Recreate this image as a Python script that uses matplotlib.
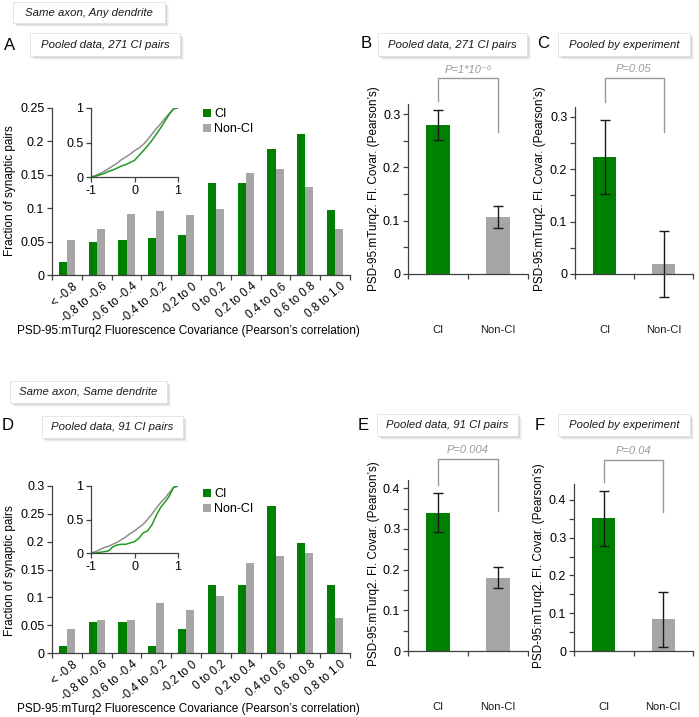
import matplotlib
matplotlib.use("Agg")
import matplotlib.pyplot as plt
import numpy as np
from matplotlib.patches import Rectangle
from matplotlib.ticker import FuncFormatter, MultipleLocator

plt.rcParams['font.family'] = ['Liberation Sans', 'DejaVu Sans']

W, H = 699, 717

# ── data ─────────────────────────────────────────────────────────────
bins = ["< -0.8", "-0.8 to -0.6", "-0.6 to -0.4", "-0.4 to -0.2", "-0.2 to 0",
        "0 to 0.2", "0.2 to 0.4", "0.4 to 0.6", "0.6 to 0.8", "0.8 to 1.0"]

any_ci = [0.019, 0.049, 0.052, 0.056, 0.060, 0.137, 0.137, 0.189, 0.211, 0.097]
any_nonci = [0.052, 0.069, 0.092, 0.096, 0.090, 0.099, 0.152, 0.158, 0.131, 0.069]
same_ci = [0.012, 0.056, 0.056, 0.012, 0.044, 0.122, 0.122, 0.264, 0.198, 0.122]
same_nonci = [0.044, 0.059, 0.059, 0.089, 0.078, 0.102, 0.162, 0.174, 0.180, 0.062]

cdf_x = [-1.0, -0.9, -0.8, -0.7, -0.6, -0.5, -0.4, -0.3, -0.2, -0.1, 0.0,
         0.1, 0.2, 0.3, 0.4, 0.5, 0.6, 0.7, 0.8, 0.9, 1.0]
any_cdf_ci = [0, 0.01, 0.03, 0.05, 0.08, 0.10, 0.13, 0.16, 0.18, 0.21, 0.24,
              0.31, 0.38, 0.45, 0.53, 0.62, 0.71, 0.81, 0.91, 0.99, 1.0]
any_cdf_nonci = [0, 0.02, 0.05, 0.08, 0.12, 0.16, 0.20, 0.25, 0.29, 0.33, 0.38,
                 0.42, 0.47, 0.54, 0.62, 0.70, 0.77, 0.85, 0.92, 0.99, 1.0]
same_cdf_ci = [0, 0.0, 0.01, 0.02, 0.03, 0.09, 0.12, 0.13, 0.13, 0.15, 0.17,
               0.22, 0.30, 0.33, 0.42, 0.56, 0.68, 0.76, 0.85, 0.98, 1.0]
same_cdf_nonci = [0, 0.02, 0.05, 0.08, 0.10, 0.13, 0.16, 0.20, 0.24, 0.29, 0.33,
                  0.38, 0.43, 0.50, 0.58, 0.67, 0.75, 0.82, 0.90, 0.98, 1.0]

groups = ["CI", "Non-CI"]
b_mean, b_err = [0.280, 0.107], [0.028, 0.020]
c_mean, c_err = [0.224, 0.020], [0.071, 0.063]
e_mean, e_err = [0.340, 0.180], [0.047, 0.026]
f_mean, f_err = [0.351, 0.084], [0.072, 0.073]

GREEN = "#008000"
GRAY = "#a6a6a6"
AXC = "#404040"
PGRAY = "#9a9a9a"

fig = plt.figure(figsize=(W / 100, H / 100), dpi=100)


def px_axes(x0, y0, x1, y1):
    return fig.add_axes([x0 / W, 1 - y1 / H, (x1 - x0) / W, (y1 - y0) / H])


def fx(x):
    return x / W


def fy(y):
    return 1 - y / H


def style(ax, size=9):
    for s in ("top", "right"):
        ax.spines[s].set_visible(False)
    for s in ("left", "bottom"):
        ax.spines[s].set_color(AXC)
        ax.spines[s].set_linewidth(0.9)
    ax.tick_params(which="both", direction="out", length=3.5, width=0.9,
                   color=AXC, labelsize=size, pad=2)
    ax.patch.set_alpha(0)


def title_box(x0, y0, x1, y1, text):
    for i, a in enumerate([0.12, 0.08, 0.05, 0.03]):
        fig.patches.append(Rectangle((fx(x0 + 1 + i), fy(y1 + 1 + i)), (x1 - x0) / W,
                                     (y1 - y0) / H, transform=fig.transFigure,
                                     facecolor="black", alpha=a, lw=0))
    fig.patches.append(Rectangle((fx(x0), fy(y1)), (x1 - x0) / W, (y1 - y0) / H,
                                 transform=fig.transFigure, facecolor="white",
                                 edgecolor="#e2e2e2", lw=0.6))
    fig.text(fx((x0 + x1) / 2), fy((y0 + y1) / 2), text, ha="center", va="center",
             style="italic", fontsize=8.2, color="#1a1a1a")


def hist_panel(box, ibox, ci, nonci, cdf_ci, cdf_nonci, ytop, leg_y):
    ax = px_axes(*box)
    style(ax)
    idx = np.arange(len(bins))
    w = 0.27
    ax.bar(idx + 0.5 - w / 2, ci, w, color=GREEN, label="CI")
    ax.bar(idx + 0.5 + w / 2, nonci, w, color=GRAY, label="Non-CI")
    ax.set_xlim(0, len(bins))
    ax.set_ylim(0, ytop)
    ax.set_xticks(np.arange(len(bins) + 1))
    ax.set_xticklabels([])
    ax.set_xticks(idx + 0.68, bins, minor=True, rotation=40, ha="right",
                  rotation_mode="anchor", fontsize=8.3)
    ax.tick_params(axis="x", which="minor", length=0, pad=4)
    ax.yaxis.set_major_locator(MultipleLocator(0.05))
    ax.yaxis.set_major_formatter(FuncFormatter(lambda v, p: f"{v:g}"))
    ax.legend(loc="upper left", bbox_to_anchor=(fx(203), fy(leg_y)),
              bbox_transform=fig.transFigure, frameon=False, fontsize=9,
              handlelength=0.6, handleheight=0.6, handletextpad=0.3,
              labelspacing=0.25, borderpad=0, borderaxespad=0)

    ins = px_axes(*ibox)
    style(ins)
    ins.plot(cdf_x, cdf_nonci, color="#8f8f8f", lw=1.1)
    ins.plot(cdf_x, cdf_ci, color="#239b23", lw=1.1)
    ins.set_xlim(-1, 1)
    ins.set_ylim(0, 1)
    ins.set_xticks([-1, 0, 1])
    ins.set_yticks([0, 0.5, 1])
    ins.xaxis.set_major_formatter(FuncFormatter(lambda v, p: f"{v:g}"))
    ins.yaxis.set_major_formatter(FuncFormatter(lambda v, p: f"{v:g}"))
    return ax


def bar_panel(box, means, errs, ytop, bracket, ptext):
    ax = px_axes(*box)
    style(ax)
    pos = [0.5, 1.5]
    ax.bar(pos, means, 0.39, color=[GREEN, GRAY])
    eb = ax.errorbar(pos, means, yerr=errs, fmt="none", ecolor="#1a1a1a",
                     elinewidth=1, capsize=3.5, capthick=1)
    for art in list(eb.lines[1]) + list(eb.lines[2]):
        art.set_clip_on(False)
    ax.set_xlim(0, 2)
    ax.set_ylim(0, ytop)
    ax.set_xticks([0, 1, 2])
    ax.set_xticklabels([])
    ax.yaxis.set_major_locator(MultipleLocator(0.1))
    ax.yaxis.set_minor_locator(MultipleLocator(0.05))
    ax.yaxis.set_major_formatter(FuncFormatter(lambda v, p: f"{v:g}"))
    left, top, right = bracket
    ax.plot([0.5, 0.5, 1.5, 1.5], [left, top, top, right], color=PGRAY, lw=1,
            clip_on=False)
    ax.annotate(ptext, xy=(1.0, top), xytext=(0, 6), textcoords="offset points",
                ha="center", va="center", style="italic", fontsize=8, color=PGRAY,
                annotation_clip=False)
    for p, g in zip(pos, groups):
        ax.annotate(g, xy=(p, 0), xycoords=("data", "axes fraction"),
                    xytext=(0, -56 * 0.72), textcoords="offset points",
                    ha="center", va="center", fontsize=8, color="#1a1a1a",
                    annotation_clip=False)
    return ax


xlab = "PSD-95:mTurq2 Fluorescence Covariance (Pearson\u2019s correlation)"
ylab_bar = "PSD-95:mTurq2. Fl. Covar. (Pearson\u2019s)"

# ── top half: same axon, any dendrite ───────────────────────────────
title_box(13, 2, 165, 23, "Same axon, Any dendrite")
title_box(30, 33, 180, 56, "Pooled data, 271 CI pairs")
title_box(378, 33, 527, 56, "Pooled data, 271 CI pairs")
title_box(558, 33, 690, 56, "Pooled by experiment")

hist_panel((52, 108, 350, 275), (91, 108, 178, 177), any_ci, any_nonci,
           any_cdf_ci, any_cdf_nonci, 0.25, 108)
bar_panel((408, 104, 528, 274), b_mean, b_err, 0.319, (0.324, 0.368, 0.267),
          "P=1*10\u207b\u2076")
bar_panel((575, 107, 693, 274), c_mean, c_err, 0.319, (0.329, 0.375, 0.272),
          "P=0.05")

fig.text(fx(188), fy(331), xlab, ha="center", va="center", fontsize=8.5)
fig.text(fx(10), fy(191), "Fraction of synaptic pairs", rotation=90,
         ha="center", va="center", fontsize=8.5)
fig.text(fx(374), fy(189), ylab_bar, rotation=90, ha="center", va="center", fontsize=8.5)
fig.text(fx(540), fy(189), ylab_bar, rotation=90, ha="center", va="center", fontsize=8.5)

# ── bottom half: same axon, same dendrite ───────────────────────────
title_box(10, 381, 167, 403, "Same axon, Same dendrite")
title_box(42, 416, 183, 438, "Pooled data, 91 CI pairs")
title_box(377, 414, 518, 436, "Pooled data, 91 CI pairs")
title_box(558, 414, 690, 436, "Pooled by experiment")

hist_panel((52, 486, 350, 653), (91, 486, 178, 553), same_ci, same_nonci,
           same_cdf_ci, same_cdf_nonci, 0.3, 488)
bar_panel((408, 480, 528, 651), e_mean, e_err, 0.42, (0.408, 0.472, 0.343),
          "P=0.004")
bar_panel((574, 484, 693, 651), f_mean, f_err, 0.442, (0.447, 0.506, 0.368),
          "P=0.04")

fig.text(fx(188), fy(709), xlab, ha="center", va="center", fontsize=8.5)
fig.text(fx(10), fy(571), "Fraction of synaptic pairs", rotation=90,
         ha="center", va="center", fontsize=8.5)
fig.text(fx(374), fy(564), ylab_bar, rotation=90, ha="center", va="center", fontsize=8.5)
fig.text(fx(539), fy(566), ylab_bar, rotation=90, ha="center", va="center", fontsize=8.5)

# ── panel letters ────────────────────────────────────────────────────
for letter, x, y in [("A", 10, 45), ("B", 366, 44), ("C", 543, 44),
                     ("D", 8, 426), ("E", 363, 425), ("F", 540, 425)]:
    fig.text(fx(x), fy(y), letter, ha="center", va="center", fontsize=12)

fig.savefig("out.png", dpi=100)
